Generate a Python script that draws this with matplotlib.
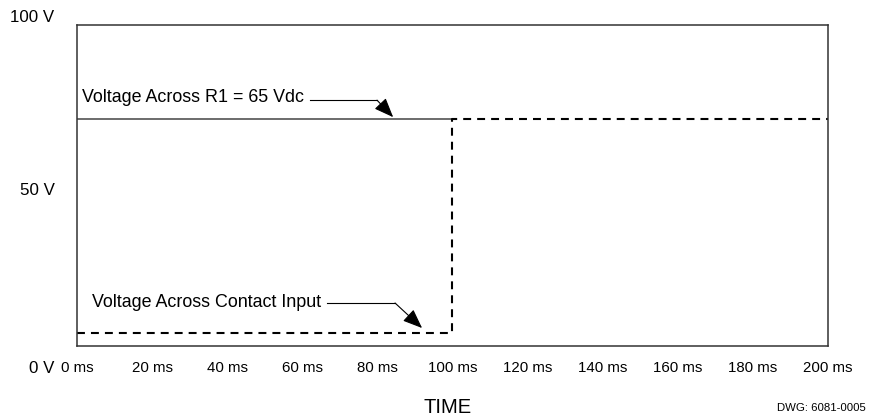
import matplotlib
matplotlib.use("Agg")
import matplotlib.pyplot as plt
import numpy as np

plt.rcParams['font.family'] = ['Liberation Sans', 'DejaVu Sans']

# data (time in ms, voltage in V)
step_time = 100
t_end = 200
r1_volts = 70.7       # drawn level of the R1 line
contact_low = 4.0     # drawn level of contact input before the step
contact_high = 70.7   # after the step

x_ticks = [0, 20, 40, 60, 80, 100, 120, 140, 160, 180, 200]
x_labels = ["%d ms" % t for t in x_ticks]
y_labels = ["100 V", "50 V", "0 V"]
y_label_pos = [102.2, 48.6, -6.9]   # where the labels sit (V)

fig = plt.figure(figsize=(8.7, 4.19), dpi=100)
ax = fig.add_axes([0.0885, 0.1742, 0.8632, 0.766])

# solid line: voltage across R1
ax.plot([0, step_time], [r1_volts, r1_volts], color='#444444', lw=1.1)

# dashed line: voltage across contact input
ct = [0, step_time, step_time, t_end]
cv = [contact_low, contact_low, contact_high, contact_high]
ax.plot(ct, cv, color='black', lw=1.5, linestyle=(0, (3.8, 2.9)))

ax.set_xlim(0, t_end)
ax.set_ylim(0, 100)

ax.set_xticks(x_ticks)
ax.set_xticklabels(x_labels, fontsize=10.8)
ax.tick_params(axis='x', length=0, pad=11)
ax.set_yticks([])
for lab, yp in zip(y_labels, y_label_pos):
    ax.text(-0.03, yp, lab, transform=ax.get_yaxis_transform(),
            ha='right', va='center', fontsize=12.2)

for s in ax.spines.values():
    s.set_color('#333333')
    s.set_linewidth(1.1)

arrow = dict(arrowstyle='-|>,head_length=1.0,head_width=0.4', mutation_scale=12,
             color='black', lw=0.8, shrinkA=0, shrinkB=0)

# callouts
ax.text(1.3, 77.3, "Voltage Across R1 = 65 Vdc", fontsize=12.9, va='center', ha='left')
ax.plot([62.0, 79.9], [76.6, 76.6], color='black', lw=0.8)
ax.annotate("", xy=(84.2, 71.3), xytext=(79.9, 76.6), arrowprops=arrow)

ax.text(4.0, 13.7, "Voltage Across Contact Input", fontsize=12.9, va='center', ha='left')
ax.plot([66.6, 84.7], [13.4, 13.4], color='black', lw=0.8)
ax.annotate("", xy=(91.9, 5.6), xytext=(84.7, 13.4), arrowprops=arrow)

fig.text(448/870, 1 - 407/419, "TIME", ha='center', va='center', fontsize=14.5)
fig.text(866/870, 1 - 408/419, "DWG: 6081-0005", ha='right', va='center', fontsize=8.2)

fig.savefig("out.png", dpi=100)
